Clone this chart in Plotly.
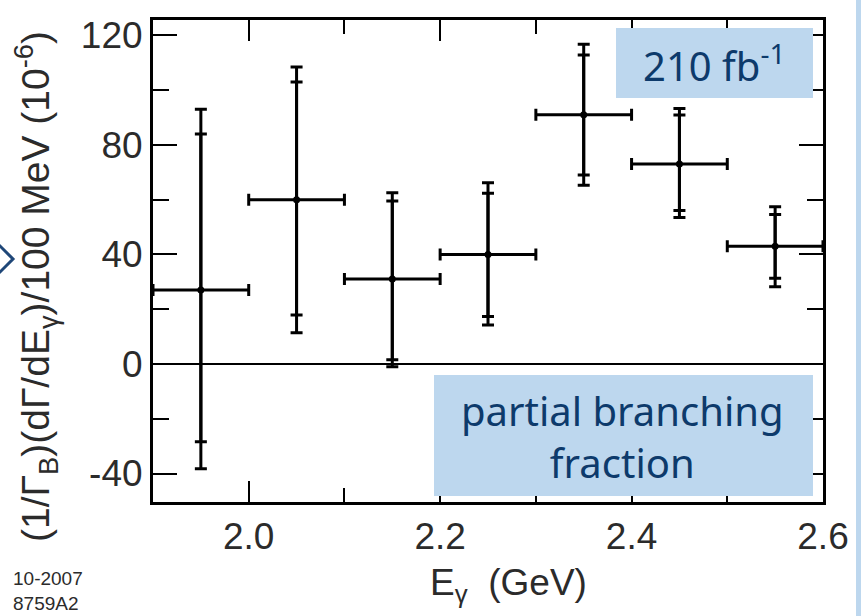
import plotly.graph_objects as go

# Photon energy bin centres (GeV) and half bin width
e_gamma = [1.95, 2.05, 2.15, 2.25, 2.35, 2.45, 2.55]
bin_half_width = [0.05, 0.05, 0.05, 0.05, 0.05, 0.05, 0.05]

# Partial branching fraction per 100 MeV (units of 1e-6)
value = [27, 60, 31, 40, 91, 73, 43]

# Statistical error band limits (inner caps)
stat_hi = [84, 103, 59.5, 62.3, 112.8, 90.9, 54.6]
stat_lo = [-28.4, 17.9, 1.5, 17.3, 69, 56, 31.3]

# Total error band limits (outer caps)
tot_hi = [93, 108.4, 62.5, 66.2, 116.7, 93.3, 57.4]
tot_lo = [-38.3, 11.4, -1, 14.2, 65.3, 53.5, 28.2]

x_ticks = [2.0, 2.2, 2.4, 2.6]
x_tick_text = ["2.0", "2.2", "2.4", "2.6"]
y_ticks = [-40, 0, 40, 80, 120]
y_tick_text = ["-40", "0", "40", "80", "120"]

W, H = 861, 616
L, R, T, B = 153, 38, 20, 114
PW, PH = W - L - R, H - T - B


def px_x(p):
    return (p - L) / PW


def px_y(p):
    return (H - B - p) / PH


SANS = "Liberation Sans, Arial, Helvetica, sans-serif"
AX_FONT = dict(family=SANS, size=37, color="#2b2b2b")
TITLE_FONT = dict(family=SANS, size=39, color="#2b2b2b")
STAMP_FONT = dict(family=SANS, size=19, color="#2b2b2b")
BOX_FONT = dict(family="Comic Sans MS, Noto Sans, sans-serif", size=40, color="#0d3a6b")
BOX_FILL = "#bdd7ee"

fig = go.Figure()

# statistical errors
fig.add_trace(go.Scatter(
    x=e_gamma, y=value, mode="markers",
    marker=dict(size=1, color="black"),
    error_y=dict(type="data", symmetric=False,
                 array=[h - v for h, v in zip(stat_hi, value)],
                 arrayminus=[v - l for l, v in zip(stat_lo, value)],
                 color="black", thickness=3, width=6),
    showlegend=False, hoverinfo="skip",
))

# total errors with bin widths
fig.add_trace(go.Scatter(
    x=e_gamma, y=value, mode="markers",
    marker=dict(size=7, color="black"),
    error_y=dict(type="data", symmetric=False,
                 array=[h - v for h, v in zip(tot_hi, value)],
                 arrayminus=[v - l for l, v in zip(tot_lo, value)],
                 color="black", thickness=3, width=6),
    error_x=dict(type="data", array=bin_half_width,
                 color="black", thickness=3, width=6),
    showlegend=False,
))

fig.update_xaxes(
    range=[1.9, 2.6], tickvals=x_ticks, ticktext=x_tick_text,
    ticks="inside", ticklen=21, tickwidth=2, tickcolor="black",
    minor=dict(ticks="inside", ticklen=14, tickwidth=2, tickcolor="black",
               dtick=0.1, tick0=2.0, showgrid=False),
    showline=True, linewidth=3, linecolor="black", mirror="allticks",
    showgrid=False, zeroline=False, tickfont=AX_FONT,
)
fig.update_yaxes(
    range=[-50.4, 125.6], tickvals=y_ticks, ticktext=y_tick_text,
    ticks="inside", ticklen=24, tickwidth=2, tickcolor="black",
    minor=dict(ticks="inside", ticklen=16, tickwidth=2, tickcolor="black",
               dtick=20, tick0=0, showgrid=False),
    showline=True, linewidth=3, linecolor="black", mirror="allticks",
    showgrid=False, zeroline=True, zerolinecolor="black", zerolinewidth=2,
    tickfont=AX_FONT,
)

shapes = [
    # luminosity label box
    dict(type="rect", xref="paper", yref="paper", layer="above",
         x0=px_x(616), x1=px_x(813), y0=px_y(98), y1=px_y(28),
         fillcolor=BOX_FILL, line=dict(width=0)),
    # caption box
    dict(type="rect", xref="paper", yref="paper", layer="above",
         x0=px_x(434), x1=px_x(813), y0=px_y(496), y1=px_y(375),
         fillcolor=BOX_FILL, line=dict(width=0)),
    # side strip
    dict(type="rect", xref="paper", yref="paper", layer="above",
         x0=px_x(856), x1=px_x(870), y0=px_y(630), y1=px_y(-10),
         fillcolor=BOX_FILL, line=dict(width=0)),
    # navigation chevron
    dict(type="path", xref="paper", yref="paper", layer="above",
         path=f"M {px_x(-2)} {px_y(244)} L {px_x(13)} {px_y(259)} L {px_x(-2)} {px_y(274)}",
         line=dict(color="#1f4778", width=3)),
]

annotations = [
    dict(text="210 fb<sup>-1</sup>", xref="paper", yref="paper",
         x=px_x(714), y=px_y(63), xanchor="center", yanchor="middle",
         showarrow=False, font=BOX_FONT),
    dict(text="partial branching<br>fraction", xref="paper", yref="paper",
         x=px_x(622), y=px_y(436), xanchor="center", yanchor="middle",
         showarrow=False, font=BOX_FONT, align="center"),
    dict(text="(1/Γ<sub>B</sub>)(dΓ/dE<sub>γ</sub>)/100 MeV (10<sup>-6</sup>)",
         xref="paper", yref="paper", x=px_x(36), y=px_y(287),
         xanchor="center", yanchor="middle", textangle=-90,
         showarrow=False, font=TITLE_FONT),
    dict(text="E<sub>γ</sub>  (GeV)", xref="paper", yref="paper",
         x=px_x(508), y=px_y(585), xanchor="center", yanchor="middle",
         showarrow=False, font=AX_FONT),
    dict(text="10-2007", xref="paper", yref="paper",
         x=px_x(11), y=px_y(579), xanchor="left", yanchor="middle",
         showarrow=False, font=STAMP_FONT),
    dict(text="8759A2", xref="paper", yref="paper",
         x=px_x(11), y=px_y(603), xanchor="left", yanchor="middle",
         showarrow=False, font=STAMP_FONT),
]

fig.update_layout(
    width=W, height=H,
    margin=dict(l=L, r=R, t=T, b=B, autoexpand=False),
    paper_bgcolor="white", plot_bgcolor="white",
    shapes=shapes, annotations=annotations, showlegend=False,
)

fig.write_html("out.html")
